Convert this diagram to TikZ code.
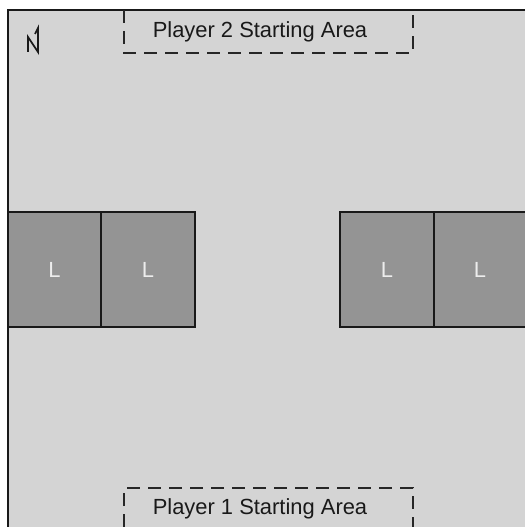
\documentclass[tikz,border=0pt]{standalone}
\usepackage{fontspec}
\setmainfont{Liberation Sans}
\definecolor{field}{gray}{0.83}
\definecolor{block}{gray}{0.58}
\definecolor{lab}{gray}{0.93}
\tikzset{
  board/.style={fill=field, draw=black!90, line width=1.8bp},
  lblock/.style={fill=block, draw=black!90, line width=1.8bp},
  area/.style={draw=black!85, line width=1.8bp, dash pattern=on 13bp off 8bp},
  areatext/.style={font=\fontsize{22}{25}\selectfont, text=black!90},
  ltext/.style={font=\fontsize{22}{25}\selectfont, text=lab},
}
\begin{document}
\begin{tikzpicture}[x=1bp,y=-1bp]
\useasboundingbox (0,0) rectangle (525,527);
\fill[white] (0,0) rectangle (525,527);
\begin{scope}
\clip (0,0) rectangle (525,527);
\draw[board] (8,10) rectangle (540,540);
% L blocks
\draw[lblock] (8,212) rectangle (101,327);
\draw[lblock] (101,212) rectangle (195,327);
\draw[lblock] (340,212) rectangle (434,327);
\draw[lblock] (434,212) rectangle (540,327);
\draw[area] (124,10) -- (124,53) -- (413,53) -- (413,10);
\draw[area] (124,527) -- (124,488) -- (413,488) -- (413,527);
\end{scope}
\node[ltext] (l1) at (54.5,270) {L};
\node[ltext] (l2) at (148,270) {L};
\node[ltext] (l3) at (387,270) {L};
\node[ltext] (l4) at (480,270) {L};
\node[areatext] (p2) at (260,32) {Player 2 Starting Area};
\node[areatext] (p1) at (260,509) {Player 1 Starting Area};
% north marker
\draw[line width=1.7bp, black!90, line join=miter] (28,52) -- (28,37) -- (38,52) -- (38,28) -- (35,34);
\end{tikzpicture}
\end{document}
